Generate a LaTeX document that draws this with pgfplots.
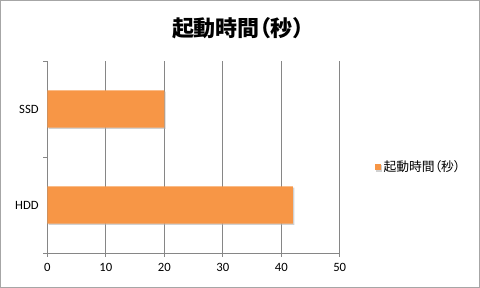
\documentclass[border=0pt]{standalone}
\usepackage{pgfplots}
\pgfplotsset{compat=1.18}
\usepackage{fontspec}
\setmainfont{Carlito}
\newfontfamily\cjk[RawFeature=+palt]{Noto Sans CJK JP}
\usetikzlibrary{shadows}
\definecolor{barorange}{HTML}{F79646}
\definecolor{gridgray}{HTML}{868686}
\definecolor{framegray}{HTML}{A6A6A6}
\begin{document}
\begin{tikzpicture}[x=1pt,y=1pt]
\useasboundingbox (0,0) rectangle (360,216);
\draw[framegray, line width=0.9pt] (0.5,0.5) rectangle (359.5,215.5);
\node[font=\cjk\bfseries\fontsize{16.5}{19}\selectfont] at (178.5,195) {起動時間（秒）};
\begin{axis}[
  at={(35.5pt,26.25pt)}, anchor=south west,
  scale only axis, width=219.3pt, height=144pt,
  xbar, bar width=28pt,
  xmin=0, xmax=50, ymin=-0.5, ymax=1.5,
  xtick={0,10,20,30,40,50},
  ytick={0,1}, yticklabels={HDD,SSD},
  minor ytick={-0.5,0.5,1.5},
  axis x line*=bottom, axis y line*=left,
  axis line style={gridgray, line width=0.6pt},
  xmajorgrids, major grid style={gridgray, line width=0.6pt},
  major x tick style={gridgray, line width=0.6pt},
  major tick length=3pt,
  x tick label style={yshift=-1pt},
  minor tick length=3pt,
  minor y tick style={gridgray, line width=0.6pt},
  major y tick style={draw=none},
  tick align=outside,
  tick label style={font=\fontsize{9.5}{11}\selectfont},
  /pgf/number format/assume math mode=true,
  legend style={at={(1.118,0.448)}, anchor=west, draw=none, fill=none,
    font=\cjk\fontsize{9.6}{11}\selectfont, inner sep=0pt},
  legend image code/.code={\fill[barorange] (-1.6pt,-2.4pt) rectangle (3.2pt,2.4pt);},
  legend cell align=left,
  clip=false,
]
\addplot[fill=barorange, draw=none, drop shadow={shadow xshift=1pt, shadow yshift=-1pt, fill=black!30, opacity=0.6}] coordinates {(42,0) (20,1)};
\addlegendentry{起動時間（秒）}
\end{axis}
\end{tikzpicture}
\end{document}
